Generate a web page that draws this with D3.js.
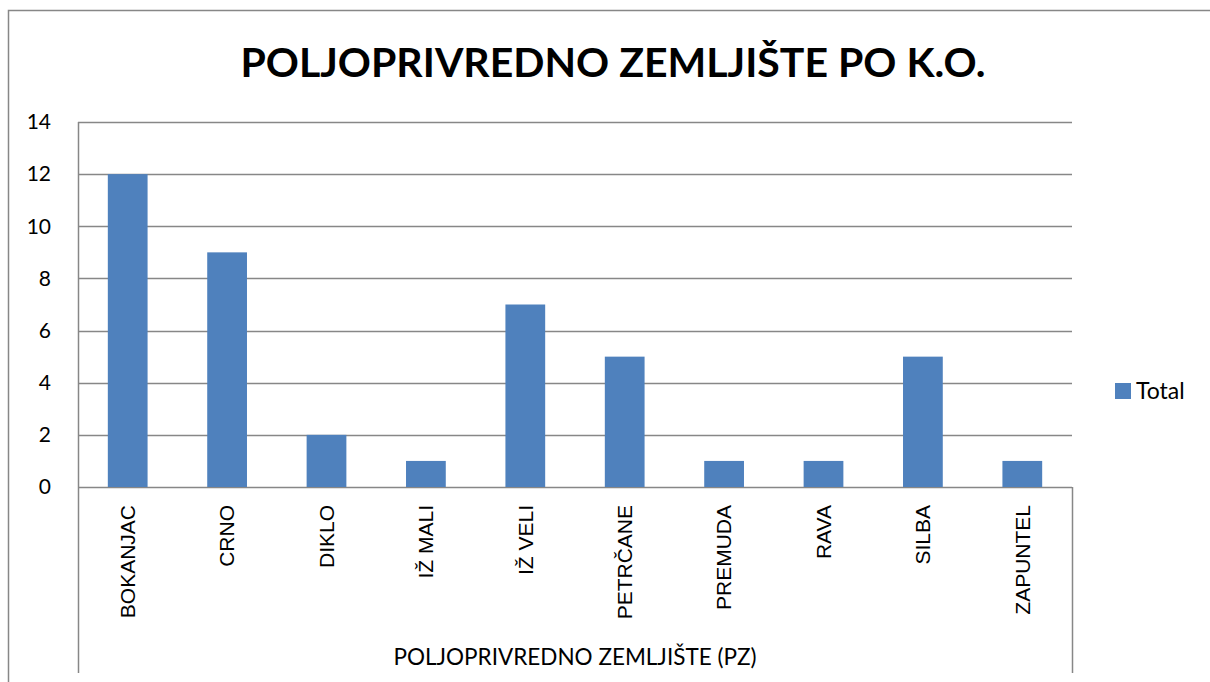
<!DOCTYPE html>
<meta charset="utf-8">
<html>
<head>
<script src="https://d3js.org/d3.v7.min.js"></script>
<style>
    body { margin: 0; background: white; }
    svg text { fill: black; }
</style>
</head>
<body>
<div id="chartdiv"></div>
<script>
// data
const categories = ["BOKANJAC", "CRNO", "DIKLO", "IŽ MALI", "IŽ VELI", "PETRČANE", "PREMUDA", "RAVA", "SILBA", "ZAPUNTEL"];
const totals = [12, 9, 2, 1, 7, 5, 1, 1, 5, 1];
const yTicks = [0, 2, 4, 6, 8, 10, 12, 14];
const seriesName = "Total";
const chartTitle = "POLJOPRIVREDNO ZEMLJIŠTE PO K.O.";
const axisTitle = "POLJOPRIVREDNO ZEMLJIŠTE (PZ)";

// layout
const W = 1210, H = 682;
const plotL = 78, plotR = 1072, plotT = 122, plotB = 487;
const barColor = "#4F81BD";
const lineColor = "#878787";

const svg = d3.select("#chartdiv").append("svg")
    .attr("width", W).attr("height", H);

// outer chart frame
svg.append("path")
    .attr("d", "M8.5," + H + "V10.5H" + W)
    .attr("fill", "none").attr("stroke", lineColor).attr("stroke-width", 1.5);

// scales
const x = d3.scaleBand()
    .domain(categories)
    .range([plotL, plotR])
    .paddingInner(0.6)
    .paddingOuter(0.3);

const y = d3.scaleLinear()
    .domain([0, 14])
    .range([plotB, plotT]);

// gridlines
svg.append("g").selectAll("line")
    .data(yTicks)
    .enter().append("line")
    .attr("x1", plotL).attr("x2", plotR)
    .attr("y1", d => Math.round(y(d)) + 0.5).attr("y2", d => Math.round(y(d)) + 0.5)
    .attr("stroke", lineColor).attr("stroke-width", 1.5);

// plot left edge + category box sides
svg.append("line")
    .attr("x1", plotL + 0.5).attr("x2", plotL + 0.5)
    .attr("y1", plotT).attr("y2", 673)
    .attr("stroke", lineColor).attr("stroke-width", 1.5);
svg.append("line")
    .attr("x1", plotR + 0.5).attr("x2", plotR + 0.5)
    .attr("y1", plotB).attr("y2", 673)
    .attr("stroke", lineColor).attr("stroke-width", 1.5);

// bars
svg.append("g").selectAll("rect")
    .data(totals)
    .enter().append("rect")
    .attr("x", (d, i) => x(categories[i]))
    .attr("y", d => y(d))
    .attr("width", x.bandwidth())
    .attr("height", d => y(0) - y(d))
    .attr("fill", barColor);

// y tick labels
svg.append("g").selectAll("text")
    .data(yTicks)
    .enter().append("text")
    .attr("x", 51)
    .attr("y", d => y(d))
    .attr("dy", "0.35em")
    .attr("text-anchor", "end")
    .style("font", "21px Lato, 'Open Sans', sans-serif")
    .text(d => d);

// category labels (rotated)
svg.append("g").selectAll("text")
    .data(categories)
    .enter().append("text")
    .attr("transform", d => "translate(" + (x(d) + x.bandwidth() / 2) + ",505) rotate(-90)")
    .attr("dy", "0.35em")
    .attr("text-anchor", "end")
    .style("font", "21px 'Liberation Sans', Arial, sans-serif")
    .text(d => d);

// axis title
svg.append("text")
    .attr("x", 575).attr("y", 665)
    .attr("text-anchor", "middle")
    .style("font", "22.5px Lato, 'Open Sans', sans-serif")
    .text(axisTitle);

// chart title
svg.append("text")
    .attr("x", 613).attr("y", 77)
    .attr("text-anchor", "middle")
    .style("font", "bold 41px Lato, 'Open Sans', sans-serif")
    .text(chartTitle);

// legend
svg.append("rect")
    .attr("x", 1115).attr("y", 383)
    .attr("width", 16).attr("height", 16)
    .attr("fill", barColor);
svg.append("text")
    .attr("x", 1136).attr("y", 391)
    .attr("dy", "0.35em")
    .style("font", "23px Lato, 'Open Sans', sans-serif")
    .text(seriesName);
</script>
</body>
</html>
